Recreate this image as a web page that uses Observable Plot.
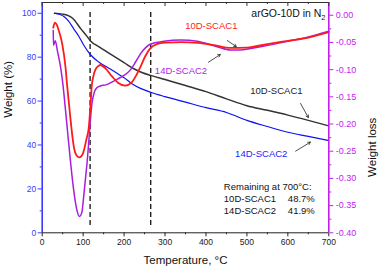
<!DOCTYPE html>
<html><head><meta charset="utf-8">
<script src="https://cdn.jsdelivr.net/npm/d3@7"></script>
<script src="https://cdn.jsdelivr.net/npm/@observablehq/plot@0.6"></script>
<style>body{margin:0;background:#fff}</style>
</head><body><div id="chart"></div>
<script>
// ---- data ----
const tBlack = [30, 50, 65, 75, 94, 108, 118, 140, 160, 200, 225, 245, 265, 300, 350, 400, 450, 500, 550, 600, 650, 700];
const wBlack = [100, 99.6, 98.8, 97.6, 93.0, 89.8, 87.4, 84.6, 82.2, 77.5, 74.6, 72.9, 71.7, 69.8, 67.1, 64.3, 61.0, 57.9, 55.8, 53.6, 51.2, 48.7];

const tBlue = [30, 45, 53, 65, 77, 90, 102, 118, 138, 160, 180, 200, 220, 240, 265, 300, 350, 400, 450, 500, 550, 600, 650, 700];
const wBlue = [100, 99.3, 98.5, 96.3, 92.9, 89.3, 85.3, 81.1, 77.8, 75.3, 73.0, 70.6, 67.8, 65.8, 64.0, 62.0, 59.5, 57.0, 54.8, 51.2, 48.4, 45.8, 43.9, 42.0];

const tRed = [27, 31, 36, 42, 49, 57, 61, 65, 69, 73, 78, 84, 91, 97, 102, 108, 114, 118, 121, 125, 130, 136, 142, 155, 170, 185, 203, 218, 230, 240, 252, 265, 280, 300, 340, 380, 420, 460, 500, 550, 600, 650, 700];
const dRed = [-0.023, -0.0135, -0.018, -0.032, -0.053, -0.096, -0.13, -0.16, -0.19, -0.218, -0.245, -0.258, -0.2615, -0.258, -0.248, -0.228, -0.205, -0.165, -0.13, -0.112, -0.100, -0.094, -0.0915, -0.098, -0.112, -0.124, -0.1295, -0.124, -0.110, -0.095, -0.075, -0.060, -0.053, -0.0505, -0.0495, -0.051, -0.055, -0.060, -0.0595, -0.053, -0.047, -0.041, -0.031];

const tMag = [27, 27.5, 32, 37, 45, 51, 57, 63, 69, 75, 81, 86, 91, 97, 102, 106, 110, 114, 118, 122, 128, 134, 142, 155, 170, 185, 199, 216, 228, 240, 252, 265, 297, 338, 379, 427, 460, 484, 510, 540, 600, 650, 700];
const dMag = [-0.028, -0.055, -0.047, -0.065, -0.096, -0.13, -0.175, -0.222, -0.268, -0.31, -0.343, -0.362, -0.370, -0.362, -0.328, -0.298, -0.268, -0.230, -0.19, -0.16, -0.14, -0.133, -0.130, -0.128, -0.123, -0.117, -0.111, -0.100, -0.086, -0.071, -0.060, -0.053, -0.048, -0.0455, -0.048, -0.058, -0.064, -0.064, -0.061, -0.057, -0.048, -0.040, -0.0295];

const xTicks = [0, 100, 200, 300, 400, 500, 600, 700];
const xMinor = [50, 150, 250, 350, 450, 550, 650];
const leftTicks = [0, 20, 40, 60, 80, 100];
const leftMinor = [10, 30, 50, 70, 90];
const rightTicks = [-0.40, -0.35, -0.30, -0.25, -0.20, -0.15, -0.10, -0.05, 0.00];
const rightMinor = [-0.375, -0.325, -0.275, -0.225, -0.175, -0.125, -0.075, -0.025];
const dashedT = [117, 265];

const seriesNames = ["10D-SCAC1", "14D-SCAC2"];
const remaining = [48.7, 41.9];
const titleText = "arGO-10D in N2";

// ---- annotation placement (data coordinates: °C, weight %) ----
const labelPos = [
  {text: seriesNames[0], x: 413, y: 94.4, color: "#ff1a1a"},
  {text: seriesNames[1], x: 339, y: 73.9, color: "#b01ee6"},
  {text: seriesNames[0], x: 572, y: 64.8, color: "#222222"},
  {text: seriesNames[1], x: 535, y: 36.0, color: "#1a1aff"}
];
const arrowPos = [
  {x1: 452, y1: 87.6, x2: 474, y2: 84.8},
  {x1: 406, y1: 77.7, x2: 435, y2: 81.2},
  {x1: 631, y1: 58.9, x2: 650, y2: 52.5},
  {x1: 619, y1: 37.2, x2: 655, y2: 41.3}
];
const remainPos = {x: 443.6, xv: 600, y0: 20.8, dy: 5.1};

// ---- scales ----
const yTop = 104.9;
const lossToW = d3.scaleLinear().domain([-0.40, 0]).range([0, 99.1]);
const W = 379, H = 272, mL = 41.7, mR = 50.7, mT = 2, mB = 39.7;
const frameH = H - mT - mB;

const blueAxis = "#3a3aff", magAxis = "#c21ef0";
const black = tBlack.map((t, i) => ({t, w: wBlack[i]}));
const blue = tBlue.map((t, i) => ({t, w: wBlue[i]}));
const red = tRed.map((t, i) => ({t, w: lossToW(dRed[i])}));
const mag = tMag.map((t, i) => ({t, w: lossToW(dMag[i])}));
const remainRows = seriesNames.map((n, i) => ({name: n, value: remaining[i].toFixed(1) + "%", i}));

const chart = Plot.plot({
  width: W, height: H,
  marginLeft: mL, marginRight: mR, marginTop: mT, marginBottom: mB,
  style: {fontFamily: "'Liberation Sans', Arial, Helvetica, sans-serif", fontSize: "8.5px", background: "white", color: "#222"},
  x: {domain: [0, 700]},
  y: {domain: [0, yTop]},
  marks: [
    Plot.ruleX(dashedT, {y1: 3.3, y2: 101.7, stroke: "#222", strokeWidth: 1.4, strokeDasharray: "5,3"}),
    Plot.line(black, {x: "t", y: "w", stroke: "#333333", strokeWidth: 1.5, curve: "monotone-x"}),
    Plot.line(blue, {x: "t", y: "w", stroke: "#1010f0", strokeWidth: 1.2, curve: "monotone-x"}),
    Plot.line(mag, {x: "t", y: "w", stroke: "#a81ee0", strokeWidth: 1.5, curve: "monotone-x"}),
    Plot.line(red, {x: "t", y: "w", stroke: "#ff1a1a", strokeWidth: 1.8, curve: "monotone-x"}),
    // frame
    Plot.ruleY([yTop], {stroke: "#333", strokeWidth: 1}),
    Plot.ruleY([0], {stroke: "#222", strokeWidth: 1}),
    Plot.ruleX([0], {stroke: blueAxis, strokeWidth: 1.6}),
    Plot.ruleX([700], {stroke: magAxis, strokeWidth: 1.6}),
    Plot.tickX(xTicks, {x: d => d, insetBottom: frameH - 4, stroke: "#333"}),
    Plot.tickX(xMinor, {x: d => d, insetBottom: frameH - 2, stroke: "#333"}),
    // axes
    Plot.axisX(xTicks, {anchor: "bottom", tickSize: 4, tickPadding: 2, label: null, tickFormat: d => String(d), fontSize: 8.5}),
    Plot.axisX(xMinor, {anchor: "bottom", tickSize: 2, fill: "none", label: null}),
    Plot.axisY(leftTicks, {anchor: "left", tickSize: 4, tickPadding: 2, color: blueAxis, label: null, tickFormat: d => String(d), fontSize: 8.5}),
    Plot.axisY(leftMinor, {anchor: "left", tickSize: 2, color: blueAxis, fill: "none", label: null}),
    Plot.axisY(rightTicks.map(lossToW), {anchor: "right", tickSize: 4, tickPadding: 3, color: magAxis, label: null, fontSize: 9,
      tickFormat: w => (Math.round(lossToW.invert(w) * 100) / 100).toFixed(2)}),
    Plot.axisY(rightMinor.map(lossToW), {anchor: "right", tickSize: 2, color: magAxis, fill: "none", label: null}),
    // axis titles
    Plot.text(["Temperature, °C"], {text: d => d, frameAnchor: "bottom", dy: 30.7, fontSize: 11.5, fill: "#111"}),
    Plot.text(["Weight (%)"], {text: d => d, frameAnchor: "left", dx: -34.2, rotate: -90, fontSize: 11.5, fill: "#111"}),
    Plot.text(["Weight loss"], {text: d => d, frameAnchor: "right", dx: 43.5, rotate: -90, fontSize: 11.5, fill: "#111"}),
    // annotations
    Plot.text([titleText], {text: d => d, x: 692, y: 99.9, textAnchor: "end", fontSize: 10.5, fill: "#111"}),
    Plot.text(labelPos, {text: "text", x: "x", y: "y", fill: "color", fontSize: 9.5}),
    Plot.arrow(arrowPos, {x1: "x1", y1: "y1", x2: "x2", y2: "y2", stroke: "#222", strokeWidth: 0.8, headLength: 5}),
    Plot.text(["Remaining at 700°C:"], {text: d => d, x: remainPos.x, y: remainPos.y0, textAnchor: "start", fontSize: 9.5, fill: "#111"}),
    Plot.text(remainRows, {text: "name", x: remainPos.x, y: d => remainPos.y0 - remainPos.dy * (d.i + 1.1), textAnchor: "start", fontSize: 9.5, fill: "#111"}),
    Plot.text(remainRows, {text: "value", x: remainPos.xv, y: d => remainPos.y0 - remainPos.dy * (d.i + 1.1), textAnchor: "start", fontSize: 9.5, fill: "#111"})
  ]
});

// subscript for N2
d3.select(chart).selectAll("text").filter(function() { return this.textContent === titleText; }).each(function() {
  const t = d3.select(this);
  t.text("arGO-10D in N");
  t.append("tspan").attr("dy", "3").attr("font-size", "7.5").text("2");
});
document.getElementById("chart").appendChild(chart);
</script>
</body></html>
